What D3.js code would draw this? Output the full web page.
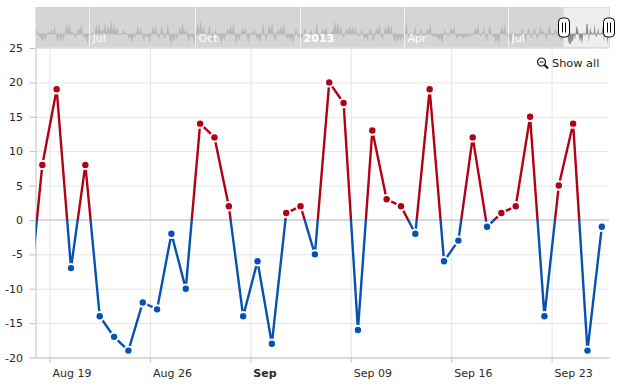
<!DOCTYPE html>
<html>
<head>
<meta charset="utf-8">
<style>
    body { margin: 0; background: #fff; }
    text { font-family: "DejaVu Sans", sans-serif; font-size: 11px; }
    .axis text { fill: #2a2a2a; }
    .axis path, .axis line { stroke: #c0c0c0; }
    .grid path { stroke: none; }
    .grid line { stroke: #e6e6e6; }
</style>
</head>
<body>
<div class="chart"></div>
<script src="https://cdn.jsdelivr.net/npm/d3@7"></script>
<script>
//Width and height
var w = 623;
var h = 386;

//Daily values, first one is Aug 17 and sits just off the left edge
var firstDay = "2013-08-17";
var values = [-13, 8, 19, -7, 8, -14, -17, -19, -12, -13, -2, -10, 14, 12, 2, -14, -6, -18, 1, 2, -5,
    20, 17, -16, 13, 3, 2, -2, 19, -6, -3, 12, -1, 1, 2, 15, -14, 5, 14, -19, -1];

var yTicks = [-20, -15, -10, -5, 0, 5, 10, 15, 20, 25];
var xTickDays = ["2013-08-19", "2013-08-26", "2013-09-02", "2013-09-09", "2013-09-16", "2013-09-23"];
var xTickLabels = ["Aug 19", "Aug 26", "Sep", "Sep 09", "Sep 16", "Sep 23"];

//Navigator overview at a coarser step than one day
var navFirstDay = "2012-05-16";
var navStepDays = 1.3;
var navValues = [12, 2, -5, -8, -14, -3, -12, 1, 3, 1, 8, 2, 16, -3, -14, -2, -16, -1, -14, 2, 18, 6, 20, 3, 5, -1, -8, 2, 12, 4, 20, -2, -8, -4, -20, -1, -2, 1, -4, 3,
    18, 4, 20, 2, 8, 5, 22, 3, 16, 6, 26, 4, 18, 3, 12, 1, -3, 2, 8, 1, 3, -2, -10, -5, -18, -2, -8, 3, 16, 2, 12, -3, -14, -1, -6, -4, -18, 3, 14, 3, 16, -2, -12, 4, 18, -2, -10, 3, 20, -5, -22, -4, -16, -2, -10, 2,
    14, 5, 22, 2, 10, -3, -16, -2, -8, -4, -20, 5, 20, 6, 26, 3, 14, 1, -5, 4, 18, -3, -16, 2, 8, -1, -4, -5, -20, -3, -14, 2, 10, 3, 16, 5, 24, -4, -20, -3, -12, 2, 10, 3, 14, -4, -18, 1, 3, 2, 10, -3, -12, -4, -18, 4,
    20, -3, -14, 4, 18, 5, 22, -4, -16, 2, 8, 3, 16, 4, 20, -2, -10, -3, -12, -4, -18, 2, 10, -2, -8, -3, -12, 3, 12, -2, -10, 2, 8, -1, -6, 5, 22, -3, -14, 2, 10, 3,
    12, 1, -6, 1, 4, 8, 24, 7, 22, 5, 14, -2, -8, 3, 10, 4, 16, 4, 14, 3, 14, -1, -6, 2, 10, -3, -10, -4, -14, 3, 12, -4, -16, 3, 12, 5, 18, -3, -12, 4, 14, 5, 20, 4, 18, -5, -16, -6, -16, -4, -14, -3, -12, 5,
    20, -3, -10, -2, -8, 4, 14, -3, -10, 2, 10, -1, -6, 2, 10, 5, 20, -1, -6, -2, -8, -4, -12, -6, -20, 2, 8, -1, -6, 3, 12, 4, 16, -3, -12, -1, -6, -3, -10, -2, -8, -1,
    -6, -1, -5, 3, 12, 5, 18, -1, -6, 3, 12, -4, -14, 5, 18, -1, -4, -5, -18, -6, -22, 4, 14, 5, 18, -2, -8, -6, -20, -1, -6, -3, -10, -2, -8, 3, 12, -4, -14, 3, 12, -2, -8, 4, 14, -3, -10, 4, 16, 2, 8, -4, -14, 5, 18, -1, -6, 3, 10, -1, -6];

var navTickDays = ["2012-07-01", "2012-10-01", "2013-01-01", "2013-04-01", "2013-07-01"];
var navTickLabels = ["Jul", "Oct", "2013", "Apr", "Jul"];

//For converting strings to date
var parseDay = d3.timeParse("%Y-%m-%d");

//Points sit at noon of their day
var dataset = values.map((v, i) => ({
    date: d3.timeHour.offset(parseDay(firstDay), i * 24 + 12),
    value: v
}));

var left = 35.5, right = 609, top_ = 48, bottom = 357.5;
var navTop = 7, navBottom = 48;

//Create SVG element
var svg = d3.select(".chart")
    .append("svg")
    .attr("width", w)
    .attr("height", h)
    .style("display", "block");

//Create scales
var xScale = d3.scaleTime()
    .domain([d3.timeMinute.offset(parseDay("2013-08-18"), 35), parseDay("2013-09-27")])
    .range([left, right]);

var yScale = d3.scaleLinear()
    .domain([-20, 25])
    .range([bottom, top_]);

var navX = d3.scaleTime()
    .domain([parseDay("2012-05-15"), parseDay("2013-09-27")])
    .range([left, right]);

var navY = d3.scaleLinear()
    .domain([-20, 20])
    .range([45, 23]);

//Clip paths
var defs = svg.append("defs");
defs.append("clipPath").attr("id", "clipAbove").append("rect")
    .attr("x", left).attr("y", top_)
    .attr("width", right - left).attr("height", yScale(0) - top_);
defs.append("clipPath").attr("id", "clipBelow").append("rect")
    .attr("x", left).attr("y", yScale(0))
    .attr("width", right - left).attr("height", bottom - yScale(0));
defs.append("clipPath").attr("id", "clipPlot").append("rect")
    .attr("x", left).attr("y", top_)
    .attr("width", right - left).attr("height", bottom - top_);

//Grid lines
svg.append("g")
    .attr("class", "grid")
    .attr("transform", "translate(" + left + ", 0)")
    .call(d3.axisLeft(yScale).tickValues(yTicks).tickSize(-(right - left)).tickFormat(""));

svg.append("g")
    .attr("class", "grid")
    .attr("transform", "translate(0, " + bottom + ")")
    .call(d3.axisBottom(xScale).tickValues(xTickDays.map(parseDay)).tickSize(-(bottom - top_)).tickFormat(""));

//Zero line
svg.append("line")
    .attr("x1", left).attr("x2", right)
    .attr("y1", yScale(0)).attr("y2", yScale(0))
    .attr("stroke", "#c0c0c0");

//Add axes
var yAxis = d3.axisLeft(yScale)
    .tickValues(yTicks)
    .tickSize(6)
    .tickSizeOuter(0)
    .tickPadding(6.5)
    .tickFormat(d3.format("d"));
svg.append("g")
    .attr("class", "axis")
    .attr("transform", "translate(" + left + ", 0)")
    .call(yAxis)
    .selectAll("text")
    .text((d) => d < 0 ? "-" + Math.abs(d) : d);

var xAxis = d3.axisBottom(xScale)
    .tickValues(xTickDays.map(parseDay))
    .tickSize(5)
    .tickSizeOuter(0)
    .tickFormat((d, i) => xTickLabels[i]);
svg.append("g")
    .attr("class", "axis")
    .attr("transform", "translate(0, " + bottom + ")")
    .call(xAxis)
    .selectAll("text")
    .attr("text-anchor", "start")
    .attr("x", 2.5)
    .attr("y", 19)
    .attr("dy", 0)
    .style("font-weight", (d, i) => xTickLabels[i] === "Sep" ? "bold" : "normal");

//Draw the line twice, red above zero and blue below it
var line = d3.line()
    .x((d) => xScale(d.date))
    .y((d) => yScale(d.value));

[["clipAbove", "#b30017"], ["clipBelow", "#0652b0"]].forEach((c) => {
    svg.append("path")
        .datum(dataset)
        .attr("d", line)
        .attr("fill", "none")
        .attr("stroke", c[1])
        .attr("stroke-width", 2.4)
        .attr("clip-path", "url(#" + c[0] + ")");
});

//Markers
svg.append("g")
    .attr("clip-path", "url(#clipPlot)")
    .selectAll("circle")
    .data(dataset)
    .enter()
    .append("circle")
    .attr("cx", (d) => xScale(d.date))
    .attr("cy", (d) => yScale(d.value))
    .attr("r", 3.2)
    .attr("fill", (d) => d.value < 0 ? "#0652b0" : "#b30017")
    .attr("stroke", "#fff")
    .attr("stroke-width", 4)
    .style("paint-order", "stroke");

//Navigator
var navData = navValues
    .map((v, i) => ({
        date: d3.timeHour.offset(parseDay(navFirstDay), Math.round(i * navStepDays * 24)),
        value: v
    }))
    .filter((d) => d.date < dataset[0].date)
    .concat(dataset);

var selStart = navX(dataset[0].date) + 1;
var selEnd = right;

var nav = svg.append("g");
nav.append("rect")
    .attr("x", left).attr("y", navTop)
    .attr("width", right - left).attr("height", navBottom - navTop)
    .attr("fill", "#eeeeee");

var navArea = d3.area()
    .x((d) => navX(d.date))
    .y0(navY(0))
    .y1((d) => navY(d.value));

nav.append("path")
    .datum(navData)
    .attr("d", navArea)
    .attr("fill", "#8c8c8c");

//Thin base line of the overview
nav.append("line")
    .attr("x1", left).attr("x2", right)
    .attr("y1", navY(0)).attr("y2", navY(0))
    .attr("stroke", "#a0a0a0");

//Grey mask over everything outside the selection
nav.append("rect")
    .attr("x", left).attr("y", navTop)
    .attr("width", selStart - left).attr("height", navBottom - navTop)
    .attr("fill", "#cacaca")
    .attr("opacity", 0.7);

var navTicks = nav.selectAll(".navTick")
    .data(navTickDays)
    .enter()
    .append("g")
    .attr("class", "navTick")
    .attr("transform", (d) => "translate(" + (Math.round(navX(parseDay(d))) + 0.5) + ", 0)");

navTicks.append("line")
    .attr("y1", navTop).attr("y2", navBottom)
    .attr("stroke", "#f2f2f2");

navTicks.append("text")
    .attr("x", 3)
    .attr("y", 42)
    .attr("fill", "#fff")
    .style("font-weight", (d, i) => navTickLabels[i] === "2013" ? "bold" : "normal")
    .text((d, i) => navTickLabels[i]);

//Frame around the navigator
nav.append("path")
    .attr("d", "M" + left + "," + (navBottom - 0.5) + "H" + (right + 0.5) + "V" + (navTop + 0.5) + "H" + selStart)
    .attr("fill", "none")
    .attr("stroke", "#dddddd");

//Handles
var handles = nav.selectAll(".handle")
    .data([selStart, selEnd])
    .enter()
    .append("g")
    .attr("class", "handle")
    .attr("transform", (d) => "translate(" + Math.round(d) + ", 27.5)");

handles.append("rect")
    .attr("x", -5.5).attr("y", -9.5)
    .attr("width", 11).attr("height", 19)
    .attr("rx", 4)
    .attr("fill", "#fff")
    .attr("stroke", "#000");

handles.selectAll("line")
    .data([-1.5, 1.5])
    .enter()
    .append("line")
    .attr("x1", (d) => d).attr("x2", (d) => d)
    .attr("y1", -5).attr("y2", 5)
    .attr("stroke", "#000");

//Show all button
var zoomIcon = svg.append("g").attr("transform", "translate(541.5, 62)");
zoomIcon.append("circle")
    .attr("r", 4)
    .attr("fill", "#fff")
    .attr("stroke", "#111")
    .attr("stroke-width", 1.2);
zoomIcon.append("line")
    .attr("x1", -2).attr("x2", 2)
    .attr("stroke", "#111");
zoomIcon.append("line")
    .attr("x1", 3).attr("y1", 3).attr("x2", 6.5).attr("y2", 6.5)
    .attr("stroke", "#111")
    .attr("stroke-width", 2);

svg.append("text")
    .attr("x", 552)
    .attr("y", 67)
    .attr("fill", "#222")
    .style("font-size", "11.3px")
    .text("Show all");
</script>
</body>
</html>
